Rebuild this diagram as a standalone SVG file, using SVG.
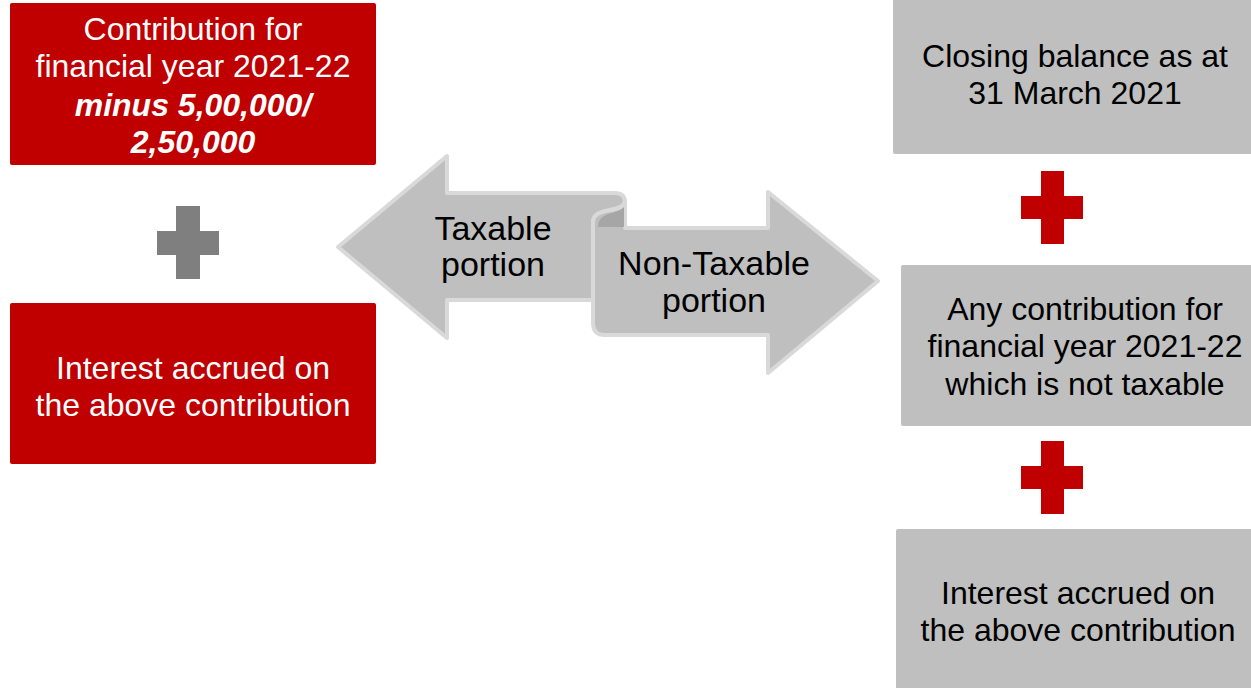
<svg xmlns="http://www.w3.org/2000/svg" width="1251" height="688" viewBox="0 0 1251 688">
<style>
.red{fill:#c00000}
.gray{fill:#bfbfbf}
.t{font-family:"Liberation Sans",Arial,sans-serif;font-size:32px;text-anchor:middle}
.a{font-size:34px}
.w{fill:#ffffff}
.k{fill:#000000}
.bi{font-weight:bold;font-style:italic}
.arr{fill:#bfbfbf;stroke:#d9d9d9;stroke-width:4;stroke-linejoin:round}
</style>
<rect width="1251" height="688" fill="#ffffff"/>
<g id="box-contribution">
<rect class="red" x="10" y="3" width="366" height="162" rx="2"/>
<text class="t w" x="193" y="40">Contribution for</text>
<text class="t w" x="193" y="77">financial year 2021-22</text>
<text class="t w bi" x="193" y="116">minus 5,00,000/</text>
<text class="t w bi" x="193" y="153">2,50,000</text>
</g>
<g id="plus-left">
<rect x="176" y="206" width="24" height="73" fill="#7f7f7f"/>
<rect x="157" y="231" width="62" height="24" fill="#7f7f7f"/>
</g>
<g id="box-interest-left">
<rect class="red" x="10" y="303" width="366" height="161" rx="2"/>
<text class="t w" x="193" y="379">Interest accrued on</text>
<text class="t w" x="193" y="416">the above contribution</text>
</g>
<g id="arrows">
<path class="arr" d="M338,247 L447,156 L447,193 L615,193 Q625,193 625,203 L625,228 L593,228 L593,300 L447,300 L447,338 Z"/>
<path class="arr" d="M593,222 C593,214 600,212 610,210 C620,208 625,206 625,200 L625,228 L768,228 L768,192 L878,281 L768,373 L768,335 L605,335 Q593,335 593,323 Z"/>
<path d="M598,227 C598,218 604,215 612,213 C619,211 623,209 624,206 L624,227 Z" fill="#a6a6a6"/>
<path d="M593,240 L593,222 C593,214 600,212 610,210 C620,208 625,206 625,200" fill="none" stroke="#d9d9d9" stroke-width="4"/>
<text class="t a k" x="493" y="240">Taxable</text>
<text class="t a k" x="493" y="276">portion</text>
<text class="t a k" x="714" y="275" textLength="192" lengthAdjust="spacing">Non-Taxable</text>
<text class="t a k" x="714" y="312">portion</text>
</g>
<g id="box-closing">
<rect class="gray" x="893" y="-5" width="370" height="159" rx="2"/>
<text class="t k" x="1075" y="67">Closing balance as at</text>
<text class="t k" x="1075" y="104">31 March 2021</text>
</g>
<g id="plus-right-1">
<rect x="1041" y="171" width="23" height="73" fill="#c00000"/>
<rect x="1021" y="196" width="62" height="23" fill="#c00000"/>
</g>
<g id="box-any-contribution">
<rect class="gray" x="901" y="265" width="370" height="161" rx="2"/>
<text class="t k" x="1085" y="320">Any contribution for</text>
<text class="t k" x="1085" y="357">financial year 2021-22</text>
<text class="t k" x="1085" y="395">which is not taxable</text>
</g>
<g id="plus-right-2">
<rect x="1041" y="441" width="23" height="73" fill="#c00000"/>
<rect x="1021" y="466" width="62" height="23" fill="#c00000"/>
</g>
<g id="box-interest-right">
<rect class="gray" x="896" y="529" width="370" height="170" rx="2"/>
<text class="t k" x="1078" y="604">Interest accrued on</text>
<text class="t k" x="1078" y="641">the above contribution</text>
</g>
</svg>
